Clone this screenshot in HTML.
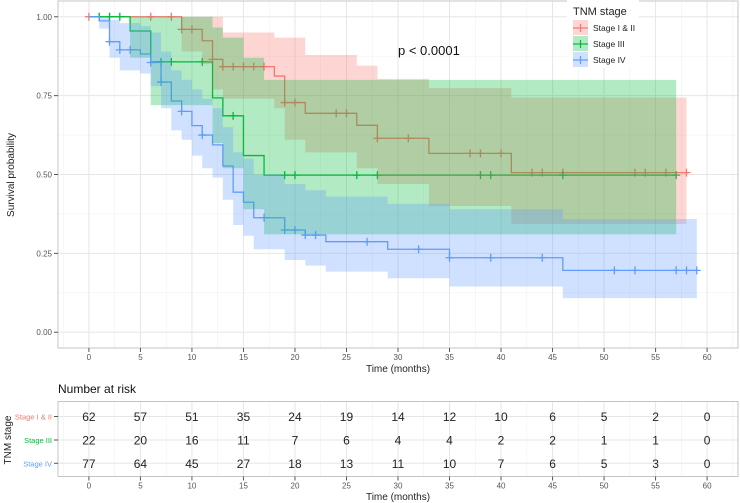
<!DOCTYPE html>
<html><head><meta charset="utf-8"><style>
html,body{margin:0;padding:0;background:#fff;}
svg{display:block;font-family:"Liberation Sans",Arial,sans-serif;}
</style></head><body>
<svg id="chart" width="740" height="503" viewBox="0 0 740 503">
<g id="top-grid"></g>
<g id="ribbons-under"></g>
<g id="axes"></g>
<text x="398" y="55" font-size="13" fill="#111">p &lt; 0.0001</text>
<text transform="translate(14,175) rotate(-90)" text-anchor="middle" font-size="10" fill="#222">Survival probability</text>
<text x="398" y="372" text-anchor="middle" font-size="10" fill="#222">Time (months)</text>
<g>
<rect x="567" y="0" width="72" height="68" fill="#fff"/>
<text x="573" y="15" font-size="11" fill="#222">TNM stage</text>
<g>
<rect x="573" y="20" width="15" height="15" fill="#F8766D" fill-opacity="0.3"/>
<line x1="573" y1="28" x2="588" y2="28" stroke="#F8766D" stroke-width="1.2"/><line x1="580.5" y1="24" x2="580.5" y2="32" stroke="#F8766D" stroke-width="1.2"/>
<text x="593" y="31" font-size="8.5" fill="#222">Stage I &amp; II</text></g>
<g>
<rect x="573" y="36" width="15" height="15" fill="#00BA38" fill-opacity="0.3"/>
<line x1="573" y1="44" x2="588" y2="44" stroke="#00BA38" stroke-width="1.2"/><line x1="580.5" y1="40" x2="580.5" y2="48" stroke="#00BA38" stroke-width="1.2"/>
<text x="593" y="47" font-size="8.5" fill="#222">Stage III</text></g>
<g>
<rect x="573" y="52" width="15" height="15" fill="#619CFF" fill-opacity="0.3"/>
<line x1="573" y1="60" x2="588" y2="60" stroke="#619CFF" stroke-width="1.2"/><line x1="580.5" y1="56" x2="580.5" y2="64" stroke="#619CFF" stroke-width="1.2"/>
<text x="593" y="63" font-size="8.5" fill="#222">Stage IV</text></g>
</g>
<text x="58" y="393" font-size="12" fill="#111">Number at risk</text>
<g id="risk"></g>
<text transform="translate(11,440) rotate(-90)" text-anchor="middle" font-size="10" fill="#222">TNM stage</text>
<text x="398" y="500" text-anchor="middle" font-size="10" fill="#222">Time (months)</text>
</svg>
<script>
const xTicks=[0,5,10,15,20,25,30,35,40,45,50,55,60];
const yTicks=[0,0.25,0.5,0.75,1];
const yTickLabels=["0.00","0.25","0.50","0.75","1.00"];
const groupNames=["Stage I & II","Stage III","Stage IV"];
const groupColors=["#F8766D","#00BA38","#619CFF"];
const redT=[0,9,11,12,13,18,19,21,26,28,33,41];
const redS=[1,0.96,0.924,0.865,0.842,0.812,0.728,0.694,0.656,0.615,0.567,0.506];
const redUp=[1,1,1,1,0.95,0.934,0.934,0.879,0.845,0.803,0.774,0.744];
const redLo=[1,0.89,0.85,0.77,0.74,0.71,0.61,0.57,0.52,0.47,0.40,0.343];
const redEnd=58;
const redCens=[0,1,2,6,8,9,10,12,13,14,15,16,17,19,20,24,25,28,31,37,38,40,43,44,46,53,54,56,58];
const greenT=[0,4,6,12,13,15,17];
const greenS=[1,0.955,0.857,0.743,0.686,0.56,0.498];
const greenUp=[1,1,1,0.966,0.934,0.87,0.80];
const greenLo=[1,0.87,0.72,0.6,0.52,0.39,0.31];
const greenEnd=57;
const greenCens=[1,2,3,7,8,11,14,19,20,26,28,38,39,46,57];
const blueT=[0,1,2,3,5,6,7,8,9,10,11,12,13,14,15,16,19,21,23,29,35,46];
const blueS=[1,0.987,0.921,0.895,0.882,0.855,0.793,0.733,0.70,0.655,0.625,0.594,0.527,0.444,0.412,0.363,0.324,0.308,0.287,0.263,0.236,0.196];
const blueUp=[1,1,0.99,0.98,0.97,0.95,0.89,0.83,0.80,0.77,0.74,0.71,0.65,0.57,0.55,0.50,0.47,0.45,0.43,0.407,0.39,0.359];
const blueLo=[1,0.963,0.87,0.83,0.82,0.78,0.71,0.64,0.61,0.56,0.52,0.49,0.42,0.34,0.306,0.263,0.229,0.211,0.192,0.171,0.145,0.108];
const blueEnd=59;
const blueCens=[2,3,4,6,7,9,11,17,19,20,21,22,27,32,35,39,44,51,53,57,58,59];
const riskTimes=[0,5,10,15,20,25,30,35,40,45,50,55,60];
const riskStage12=[62,57,51,35,24,19,14,12,10,6,5,2,0];
const riskStage3=[22,20,16,11,7,6,4,4,2,2,1,1,0];
const riskStage4=[77,64,45,27,18,13,11,10,7,6,5,3,0];

const NS="http://www.w3.org/2000/svg";
const L=58,R=738,T=1,B=348;
const X=t=>L+(t+3)/66*(R-L);
const Y=s=>T+(1.05-s)/1.1*(B-T);
function mk(tag,attrs,parent){const e=document.createElementNS(NS,tag);for(const k in attrs)e.setAttribute(k,attrs[k]);parent.appendChild(e);return e;}
const grid=document.getElementById('top-grid');
mk('rect',{x:L,y:T,width:R-L,height:B-T,fill:'#fff'},grid);
for(let v=-2.5;v<=62.5;v+=5){mk('line',{x1:X(v),x2:X(v),y1:T,y2:B,stroke:'#f0f0f0','stroke-width':0.6},grid);}
for(let v=0.125;v<1.1;v+=0.25){mk('line',{x1:L,x2:R,y1:Y(v),y2:Y(v),stroke:'#f0f0f0','stroke-width':0.6},grid);}
xTicks.forEach(v=>{const e=mk('line',{x1:X(v),x2:X(v),y1:T,y2:B,stroke:'#e6e6e6','stroke-width':1},grid);});
yTicks.forEach(v=>{const e=mk('line',{x1:L,x2:R,y1:Y(v),y2:Y(v),stroke:'#e6e6e6','stroke-width':1},grid);});

const curves=document.getElementById('ribbons-under');
function stepPath(ts,vs,end){let d=`M${X(ts[0])},${Y(vs[0])}`;for(let i=1;i<ts.length;i++){d+=`H${X(ts[i])}V${Y(vs[i])}`;}d+=`H${X(end)}`;return d;}
function ribbon(ts,up,lo,end){let d=`M${X(ts[0])},${Y(up[0])}`;for(let i=1;i<ts.length;i++){d+=`H${X(ts[i])}V${Y(up[i])}`;}d+=`H${X(end)}V${Y(lo[lo.length-1])}`;for(let i=ts.length-1;i>=1;i--){d+=`H${X(ts[i])}V${Y(lo[i-1])}`;}d+=`H${X(ts[0])}Z`;return d;}
function sAt(ts,ss,t){let s=ss[0];for(let i=0;i<ts.length;i++){if(ts[i]<=t)s=ss[i];}return s;}
const groups=[[redT,redS,redUp,redLo,redEnd,redCens,'stage-1-2'],[greenT,greenS,greenUp,greenLo,greenEnd,greenCens,'stage-3'],[blueT,blueS,blueUp,blueLo,blueEnd,blueCens,'stage-4']];
groups.forEach((g,gi)=>{
  const [ts,ss,up,lo,end,cens,nm]=g;const c=groupColors[gi];
  const line=mk('path',{d:stepPath(ts,ss,end),fill:'none',stroke:c,'stroke-width':1.3},curves);
  
  
  cens.forEach(t=>{const s=sAt(ts,ss,t);const cx=X(t),cy=Y(s);
    const p=mk('path',{d:`M${cx-4},${cy}H${cx+4}M${cx},${cy-4}V${cy+4}`,stroke:c,'stroke-width':1.3},curves);
    
    });
});
groups.forEach((g,gi)=>{
  const [ts,ss,up,lo,end,cens,nm]=g;
  const r=mk('path',{d:ribbon(ts,up,lo,end),fill:groupColors[gi],'fill-opacity':0.3,stroke:'none'},curves);
  
  
});
const axes=document.getElementById('axes');
mk('rect',{x:L,y:T,width:R-L,height:B-T,fill:'none',stroke:'#c4c4c4','stroke-width':1},axes);
yTicks.forEach((v,i)=>{mk('line',{x1:L-4,x2:L,y1:Y(v),y2:Y(v),stroke:'#555'},axes);
  const t=mk('text',{x:L-6,y:Y(v)+3,'text-anchor':'end','font-size':8,fill:'#555'},axes);t.textContent=yTickLabels[i];
  });
xTicks.forEach(v=>{mk('line',{x1:X(v),x2:X(v),y1:B,y2:B+4,stroke:'#555'},axes);
  const t=mk('text',{x:X(v),y:B+12,'text-anchor':'middle','font-size':8,fill:'#555'},axes);t.textContent=v;
  });

const risk=document.getElementById('risk');
const RT=401.5,RB=476.5;
mk('rect',{x:L,y:RT,width:R-L,height:RB-RT,fill:'#fff'},risk);
for(let v=-2.5;v<=62.5;v+=5)mk('line',{x1:X(v),x2:X(v),y1:RT,y2:RB,stroke:'#f0f0f0','stroke-width':0.6},risk);
xTicks.forEach(v=>mk('line',{x1:X(v),x2:X(v),y1:RT,y2:RB,stroke:'#e6e6e6'},risk));
const rowY=[416.5,440,463.3];
rowY.forEach(y=>mk('line',{x1:L,x2:R,y1:y,y2:y,stroke:'#e6e6e6'},risk));
mk('rect',{x:L,y:RT,width:R-L,height:RB-RT,fill:'none',stroke:'#c4c4c4'},risk);
[riskStage12,riskStage3,riskStage4].forEach((row,ri)=>{
  const lab=mk('text',{x:L-6,y:rowY[ri]+3,'text-anchor':'end','font-size':7.5,fill:groupColors[ri]},risk);lab.textContent=groupNames[ri];
  
  mk('line',{x1:L-4,x2:L,y1:rowY[ri],y2:rowY[ri],stroke:'#555'},risk);
  row.forEach((n,i)=>{const t=mk('text',{x:X(riskTimes[i]),y:rowY[ri]+4.5,'text-anchor':'middle','font-size':12,fill:'#222'},risk);t.textContent=n;
    });
});
xTicks.forEach(v=>{mk('line',{x1:X(v),x2:X(v),y1:RB,y2:RB+4,stroke:'#555'},risk);
  const t=mk('text',{x:X(v),y:RB+12,'text-anchor':'middle','font-size':8,fill:'#555'},risk);t.textContent=v;
  });
</script>
</body></html>
